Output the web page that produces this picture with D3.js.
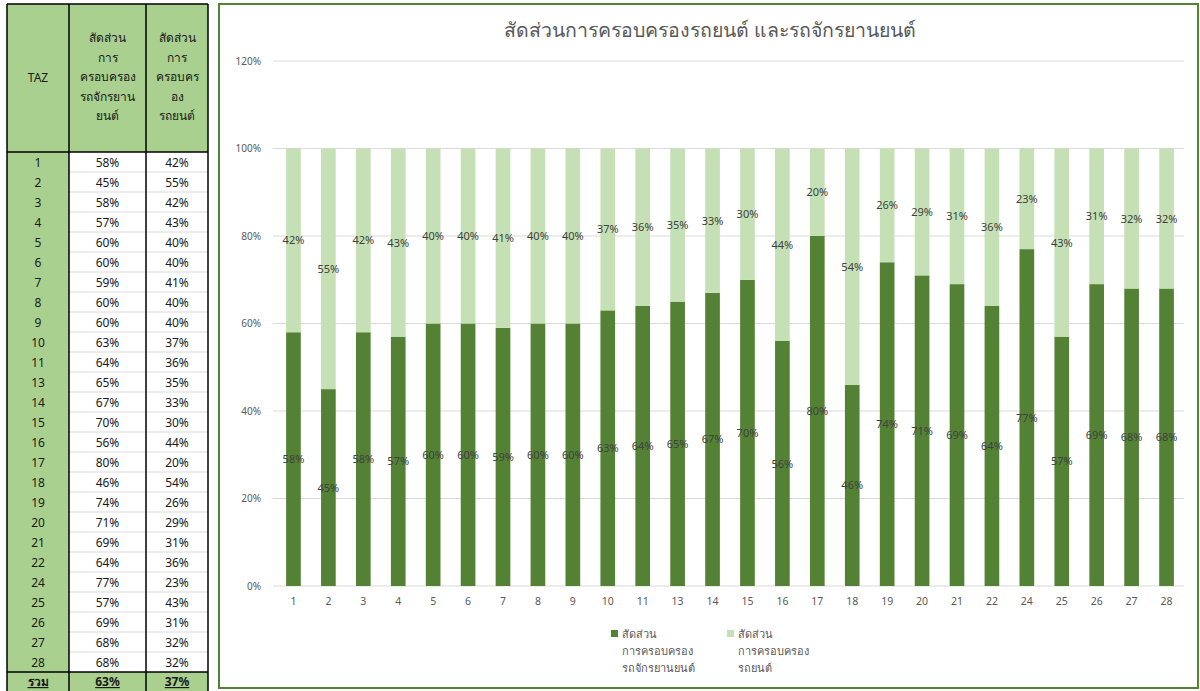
<!DOCTYPE html>
<html><head><meta charset="utf-8">
<script src="https://cdn.jsdelivr.net/npm/d3@7"></script>
<style>
body{margin:0;background:#fff;}
svg text{font-family:Tahoma,"Noto Sans","DejaVu Sans",sans-serif;}
</style></head>
<body><svg id="c" width="1200" height="691"></svg>
<script>
const taz = ["1","2","3","4","5","6","7","8","9","10","11","13","14","15","16","17","18","19","20","21","22","24","25","26","27","28"];
const motoShare = [58,45,58,57,60,60,59,60,60,63,64,65,67,70,56,80,46,74,71,69,64,77,57,69,68,68];
const carShare  = [42,55,42,43,40,40,41,40,40,37,36,35,33,30,44,20,54,26,29,31,36,23,43,31,32,32];
const totalRow = ["รวม","63%","37%"];
const yTicks = [0,20,40,60,80,100,120];
const titleText = "สัดส่วนการครอบครองรถยนต์ และรถจักรยานยนต์";
const headMoto = ["สัดส่วน","การ","ครอบครอง","รถจักรยาน","ยนต์"];
const headCar = ["สัดส่วน","การ","ครอบคร","อง","รถยนต์"];
const legendMoto = ["สัดส่วน","การครอบครอง","รถจักรยานยนต์"];
const legendCar = ["สัดส่วน","การครอบครอง","รถยนต์"];

const DARK="#548235", LIGHT="#c5e0b4", TGREEN="#a9d08e";
const svg = d3.select("#c");

// ---------- Table ----------
const colX = [7,69,146,208];
const headTop=4, headBot=152, rowH=20;
const tbl = svg.append("g");
tbl.append("rect").attr("x",colX[0]).attr("y",headTop).attr("width",colX[3]-colX[0]).attr("height",headBot-headTop).attr("fill",TGREEN);
tbl.append("rect").attr("x",colX[0]).attr("y",headBot).attr("width",colX[1]-colX[0]).attr("height",rowH*taz.length).attr("fill",TGREEN);
const totTop = headBot + rowH*taz.length;
tbl.append("rect").attr("x",colX[0]).attr("y",totTop).attr("width",colX[3]-colX[0]).attr("height",30).attr("fill",TGREEN);
taz.forEach((d,i)=>{
  if(i>0) tbl.append("line").attr("x1",colX[1]).attr("x2",colX[3]).attr("y1",headBot+i*rowH).attr("y2",headBot+i*rowH).attr("stroke","#d9d9d9").attr("stroke-width",1);
});
const cx = [(colX[0]+colX[1])/2,(colX[1]+colX[2])/2,(colX[2]+colX[3])/2];
tbl.append("text").attr("x",cx[0]).attr("y",82).attr("text-anchor","middle").attr("font-size",12).attr("fill","#1a1a1a").text("TAZ");
headMoto.forEach((t,i)=>tbl.append("text").attr("x",cx[1]).attr("y",42+i*19.5).attr("text-anchor","middle").attr("font-size",12).attr("font-weight",500).attr("fill","#1a1a1a").text(t));
headCar.forEach((t,i)=>tbl.append("text").attr("x",cx[2]).attr("y",42+i*19.5).attr("text-anchor","middle").attr("font-size",12).attr("font-weight",500).attr("fill","#1a1a1a").text(t));
taz.forEach((d,i)=>{
  const y = headBot + i*rowH + 15;
  tbl.append("text").attr("x",cx[0]).attr("y",y).attr("text-anchor","middle").attr("font-size",12).attr("fill","#1a1a1a").text(d);
  tbl.append("text").attr("x",cx[1]).attr("y",y).attr("text-anchor","middle").attr("font-size",12).attr("fill","#1a1a1a").text(motoShare[i]+"%");
  tbl.append("text").attr("x",cx[2]).attr("y",y).attr("text-anchor","middle").attr("font-size",12).attr("fill","#1a1a1a").text(carShare[i]+"%");
});
totalRow.forEach((t,i)=>{
  tbl.append("text").attr("x",cx[i]).attr("y",totTop+14).attr("text-anchor","middle").attr("font-size",12).attr("font-weight","bold").attr("fill","#1a1a1a").attr("text-decoration","underline").text(t);
});
colX.forEach(x=>tbl.append("line").attr("x1",x).attr("x2",x).attr("y1",headTop).attr("y2",691).attr("stroke","#000").attr("stroke-width",1.5));
[headTop,headBot,totTop].forEach(y=>tbl.append("line").attr("x1",colX[0]).attr("x2",colX[3]).attr("y1",y).attr("y2",y).attr("stroke","#000").attr("stroke-width",1.5));

// ---------- Chart ----------
svg.append("rect").attr("x",219).attr("y",4).attr("width",979).attr("height",684).attr("fill","#fff").attr("stroke",DARK).attr("stroke-width",2);
svg.append("text").attr("x",710).attr("y",37).attr("text-anchor","middle").attr("font-size",19.5).attr("fill","#595959").text(titleText);

const x = d3.scaleBand().domain(taz).range([276,1184]).paddingInner(0.58).paddingOuter(0.29);
const y = d3.scaleLinear().domain([0,120]).range([586,61]);

const grid = svg.append("g");
yTicks.forEach(t=>{
  grid.append("line").attr("x1",273).attr("x2",1184).attr("y1",y(t)).attr("y2",y(t)).attr("stroke","#d9d9d9").attr("stroke-width",1);
  grid.append("text").attr("x",261).attr("y",y(t)+3.5).attr("text-anchor","end").attr("font-size",10).attr("fill","#595959").text(t+"%");
});
const xa = svg.append("g").attr("transform","translate(0,586)").call(d3.axisBottom(x).tickSize(0).tickPadding(12));
xa.select(".domain").remove();
xa.selectAll("text").attr("font-size",10.5).attr("fill","#595959").style("font-family","Tahoma,'Noto Sans','DejaVu Sans',sans-serif");

const data = taz.map((t,i)=>({t,m:motoShare[i],c:carShare[i]}));
const bars = svg.append("g");
bars.selectAll(".m").data(data).join("rect").attr("x",d=>x(d.t)).attr("width",x.bandwidth()).attr("y",d=>y(d.m)).attr("height",d=>y(0)-y(d.m)).attr("fill",DARK);
bars.selectAll(".c").data(data).join("rect").attr("x",d=>x(d.t)).attr("width",x.bandwidth()).attr("y",d=>y(d.m+d.c)).attr("height",d=>y(d.m)-y(d.m+d.c)).attr("fill",LIGHT);
const lab = svg.append("g").attr("font-size",11).attr("fill","#404040").attr("text-anchor","middle");
data.forEach(d=>{
  const xc = x(d.t)+x.bandwidth()/2;
  lab.append("text").attr("x",xc).attr("y",y(d.m/2)+4).text(d.m+"%");
  lab.append("text").attr("x",xc).attr("y",y(d.m+d.c/2)+4).text(d.c+"%");
});

const lg = svg.append("g").attr("font-size",11).attr("fill","#595959");
[[611,DARK,legendMoto],[727,LIGHT,legendCar]].forEach(([lx,col,lines])=>{
  lg.append("rect").attr("x",lx).attr("y",630).attr("width",7).attr("height",7).attr("fill",col);
  lines.forEach((t,i)=>lg.append("text").attr("x",lx+11).attr("y",638+i*17).text(t));
});
</script></body></html>
